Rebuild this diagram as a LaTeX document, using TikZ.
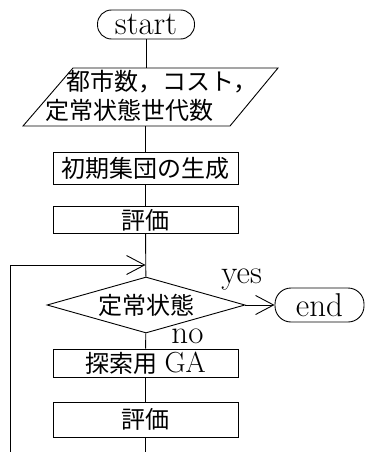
\documentclass[tikz,border=0pt]{standalone}
\usepackage{fontspec}
\newfontfamily\jp{Noto Sans CJK JP}
\usetikzlibrary{shapes.geometric,arrows.meta}
\begin{document}
\begin{tikzpicture}[x=1pt,y=-1pt,
 line width=0.9pt,
 lat/.style={font=\fontsize{33}{35}\selectfont},
 jpf/.style={font=\jp\fontsize{24}{26}\selectfont},
 term/.style={draw, inner sep=0pt, lat},
 proc/.style={draw, inner sep=0pt, jpf, minimum width=185pt},
 arr/.style={-{Straight Barb[length=18pt,width=19pt]}}]
\useasboundingbox (0,0) rectangle (369,452);
\node[term, rounded corners=14pt, minimum width=97pt, minimum height=29pt] (start) at (146,24.5) {start};
\coordinate (p1) at (73,68);
\coordinate (p2) at (278,68);
\coordinate (p3) at (230,126);
\coordinate (p4) at (23,126);
\draw (p1) -- (p2) -- (p3) -- (p4) -- cycle;
\node[jpf, anchor=west, inner sep=0pt] (in1) at (66,82) {都市数，コスト，};
\node[jpf, anchor=west, inner sep=0pt] (in2) at (45,110) {定常状態世代数};
\node[proc, minimum height=32pt] (init) at (145.5,168) {初期集団の生成};
\node[proc, minimum height=27pt] (eval1) at (145.5,220) {評価};
\node[draw, diamond, aspect=3.5, minimum width=198pt, minimum height=56pt, inner sep=0pt, jpf] (dec) at (146,305) {定常状態};
\node[term, rounded corners=16pt, minimum width=89pt, minimum height=34pt] (end) at (319.5,305) {end};
\node[lat, anchor=base west, inner sep=0pt] (yes) at (221,283) {yes};
\node[lat, anchor=base west, inner sep=0pt] (no) at (171,343) {no};
\node[proc, minimum height=28pt] (ga) at (145.5,363) {探索用\hspace{0.3em}{\rmfamily\fontsize{29}{31}\selectfont GA}};
\node[proc, minimum height=35pt] (eval2) at (145.5,419.5) {評価};
\coordinate (merge) at (145.5,265);
\coordinate (lb) at (10,452);
\coordinate (bot) at (145.5,452);
\draw (start) -- (start |- p1);
\draw (init |- p4) -- (init);
\draw (init) -- (eval1);
\draw (eval1) -- (dec);
\draw[arr] (lb) |- (merge);
\draw[arr] (dec.east) -- (end.west);
\draw (dec) -- (ga);
\draw (ga) -- (eval2);
\draw (eval2) -- (bot);
\end{tikzpicture}
\end{document}
